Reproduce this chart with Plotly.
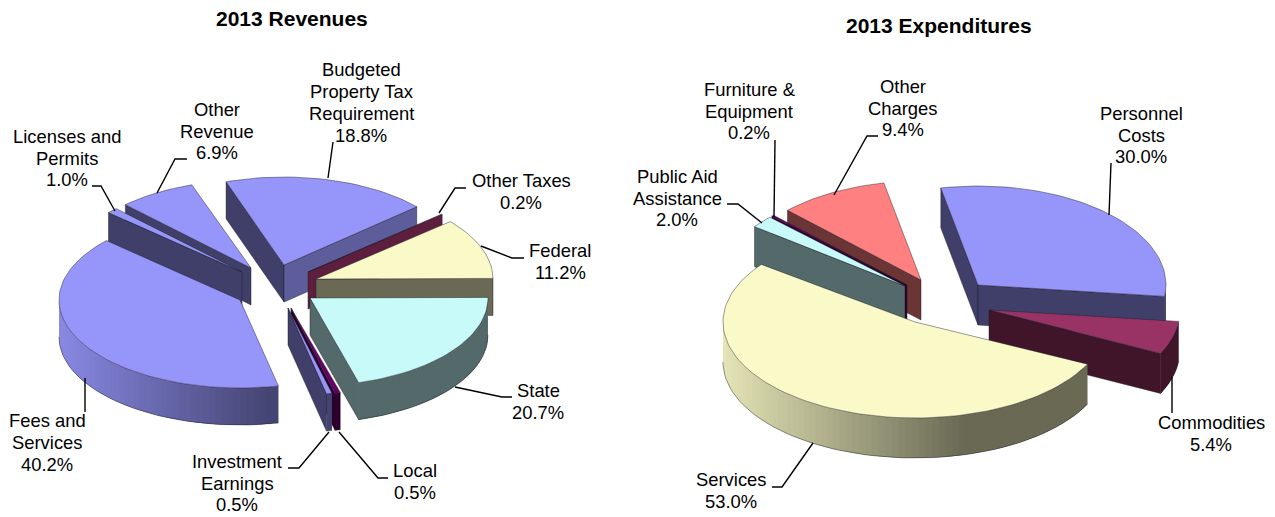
import math
import plotly.graph_objects as go

# ---- data ----
rev_title = "2013 Revenues"
rev_names = ["Budgeted<br>Property Tax<br>Requirement", "Other Taxes", "Federal", "State", "Local",
             "Investment<br>Earnings", "Fees and<br>Services", "Licenses and<br>Permits", "Other<br>Revenue"]
rev_values = [18.8, 0.2, 11.2, 20.7, 0.5, 0.5, 40.2, 1.0, 6.9]

exp_title = "2013 Expenditures"
exp_names = ["Personnel<br>Costs", "Commodities", "Services", "Public Aid<br>Assistance",
             "Furniture &<br>Equipment", "Other<br>Charges"]
exp_values = [30.0, 5.4, 53.0, 2.0, 0.2, 9.4]

# ---- styles and placement (pixel space of the hidden axes) ----
BLUE, MAROON, CREAM, CYAN, PURPLE, SALMON = "#9696FA", "#993366", "#FAFAC8", "#C8FAFA", "#660066", "#FF8080"
FONT = "Liberation Sans, Arial, sans-serif"
LABEL_SIZE, TITLE_SIZE, LINE_STEP = 18.4, 21, 21.7

rev_style = dict(
    start=-109.1, depth=37,
    rx=[177, 177, 177, 178, 181, 181, 181, 181, 181],
    ry=[88, 88, 88, 88, 88, 88, 88, 88, 88],
    colors=[BLUE, MAROON, CREAM, CYAN, PURPLE, BLUE, BLUE, BLUE, BLUE],
    apex=[(284, 265), (308, 272), (316, 279), (310, 298), (291, 308), (288, 308), (240, 300), (242, 272), (251, 268)],
    order=[0, 8, 7, 6, 1, 2, 3, 4, 5],
    labels=[(361, 102.5), (521, 191.5), (560, 261.5), (538, 401.5), (415, 481.5), (237, 483), (47, 442.5), (67, 158), (217, 131)],
    leaders=[[(333, 142), (328, 178)], [(466, 188), (455, 188), (439, 213)], [(524, 258), (512, 258), (481, 246)],
             [(512, 397), (502, 397), (455, 387)], [(388, 478), (378, 478), (339, 432)],
             [(288, 468), (299, 468), (329, 432)], [(85, 412), (85, 378)], [(92, 186), (101, 186), (115, 211)],
             [(187, 159), (175, 159), (157, 193)]],
    title_pos=(292, 18),
)
exp_style = dict(
    start=-101.4, depth=40,
    rx=[188, 191, 192, 188, 188, 188],
    ry=[99, 99, 96, 99, 99, 99],
    colors=[BLUE, MAROON, CREAM, CYAN, PURPLE, SALMON],
    apex=[(978, 285), (989, 310), (915, 322), (905, 286), (907, 285), (921, 280)],
    order=[5, 4, 3, 0, 1, 2],
    labels=[(1141, 135), (1211, 433.5), (731, 490.5), (677, 198), (749, 111), (903, 108)],
    leaders=[[(1111, 163), (1109, 215)], [(1172, 413), (1172, 377)], [(772, 487), (782, 487), (813, 443)],
             [(727, 204), (738, 204), (762, 223)], [(775, 140), (774, 217)], [(878, 136), (867, 136), (834, 195)]],
    title_pos=(939, 25),
)

EDGE = "rgba(30,30,40,0.75)"


def shade(hex_color, f):
    r, g, b = (int(hex_color[i:i + 2], 16) for i in (1, 3, 5))
    return f"rgb({int(r * f)},{int(g * f)},{int(b * f)})"


def poly(fig, xs, ys, fill, line=EDGE, width=0.6):
    fig.add_trace(go.Scatter(x=xs, y=ys, mode="lines", fill="toself", fillcolor=fill,
                             line=dict(color=line, width=width), hoverinfo="skip", showlegend=False))


def pie(fig, values, names, st):
    total = sum(values)
    edges = [st["start"]]
    for v in values:
        edges.append(edges[-1] + 360 * v / total)
    d = st["depth"]

    for i in st["order"]:
        t0, t1 = edges[i], edges[i + 1]
        cx, cy = st["apex"][i]
        rx, ry = st["rx"][i], st["ry"][i]
        col = st["colors"][i]

        def rim(t):
            a = math.radians(t)
            return cx + rx * math.cos(a), cy + ry * math.sin(a)

        # radial walls that face the viewer
        if math.cos(math.radians(t0)) < 0:
            x, y = rim(t0)
            poly(fig, [cx, x, x, cx, cx], [cy, y, y + d, cy + d, cy], shade(col, 0.42))
        if math.cos(math.radians(t1)) > 0:
            x, y = rim(t1)
            f = 0.62 if math.sin(math.radians(t1)) < -0.5 else 0.42
            poly(fig, [cx, x, x, cx, cx], [cy, y, y + d, cy + d, cy], shade(col, f))

        # outer wall with a left-to-right gradient, on the front half only
        lo, hi = None, None
        for k in (-360, 0, 360):
            a, b = max(t0, k), min(t1, k + 180)
            if a < b:
                lo, hi = a, b
        if lo is not None:
            n = max(1, int((hi - lo) / 2))
            ts = [lo + (hi - lo) * j / n for j in range(n + 1)]
            # each piece overlaps its neighbour to hide seams
            for j in range(n - 1, -1, -1):
                a = ts[j]
                b = ts[min(j + 2, n)]
                mid = (ts[j] + ts[j + 1]) / 2
                c = math.cos(math.radians(mid))
                f = 0.42 if c > 0.3 else 0.42 + 0.5 * (0.3 - c) / 1.3
                sub = [a + (b - a) * q / 4 for q in range(5)]
                top = [rim(t) for t in sub]
                xs = [p[0] for p in top] + [p[0] for p in reversed(top)] + [top[0][0]]
                ys = [p[1] for p in top] + [p[1] + d for p in reversed(top)] + [top[0][1]]
                poly(fig, xs, ys, shade(col, f), line="rgba(0,0,0,0)", width=0)
            bx = [rim(t)[0] for t in ts]
            by = [rim(t)[1] + d for t in ts]
            fig.add_trace(go.Scatter(x=bx, y=by, mode="lines", line=dict(color=EDGE, width=0.6),
                                     hoverinfo="skip", showlegend=False))

        # top surface
        n = max(2, int((t1 - t0) / 2))
        pts = [rim(t0 + (t1 - t0) * j / n) for j in range(n + 1)]
        poly(fig, [cx] + [p[0] for p in pts] + [cx], [cy] + [p[1] for p in pts] + [cy], col)

    for name, v, pos, lead in zip(names, values, st["labels"], st["leaders"]):
        fig.add_trace(go.Scatter(x=[p[0] for p in lead], y=[p[1] for p in lead], mode="lines",
                                 line=dict(color="black", width=1.4), hoverinfo="skip", showlegend=False))
        lines = name.split("<br>") + [f"{v:.1f}%"]
        y0 = pos[1] - LINE_STEP * (len(lines) - 1) / 2
        for k, line in enumerate(lines):
            fig.add_annotation(x=pos[0], y=y0 + k * LINE_STEP, xref="x", yref="y", text=line, showarrow=False,
                               xanchor="center", yanchor="middle",
                               font=dict(family=FONT, size=LABEL_SIZE, color="black"))


fig = go.Figure()
pie(fig, rev_values, rev_names, rev_style)
pie(fig, exp_values, exp_names, exp_style)

for title, st in ((rev_title, rev_style), (exp_title, exp_style)):
    fig.add_annotation(x=st["title_pos"][0], y=st["title_pos"][1], xref="x", yref="y", text=f"<b>{title}</b>",
                       showarrow=False, font=dict(family=FONT, size=TITLE_SIZE, color="black"))

fig.update_layout(
    width=1275, height=517, margin=dict(l=0, r=0, t=0, b=0),
    paper_bgcolor="white", plot_bgcolor="white", showlegend=False,
    xaxis=dict(range=[0, 1275], visible=False, fixedrange=True),
    yaxis=dict(range=[517, 0], visible=False, fixedrange=True),
)
fig.write_html("out.html", config=dict(displayModeBar=False),
               post_script="document.body.style.margin='0';document.documentElement.style.overflow='hidden';")
